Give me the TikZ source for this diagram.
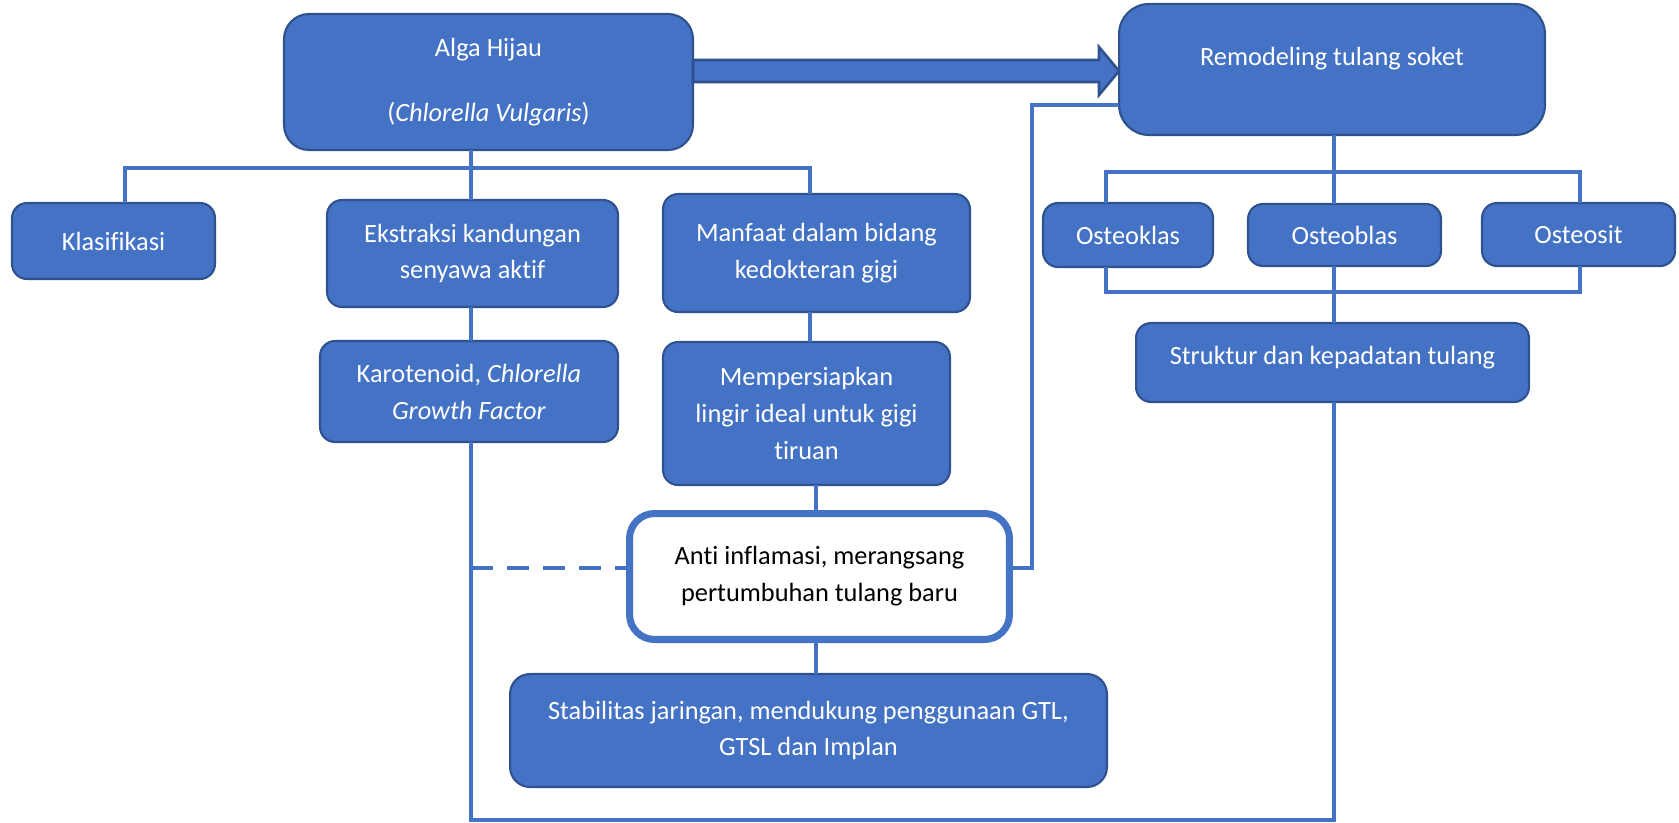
\documentclass[tikz,border=0pt]{standalone}
\usepackage{fontspec}
\setmainfont{Carlito}[Ligatures=NoCommon]
\usepackage{tikz}
\usepackage{xcolor}
\definecolor{officeblue}{HTML}{4472C4}
\definecolor{darkblue}{HTML}{2F528F}

\begin{document}
\begin{tikzpicture}[x=0.02cm,y=-0.02cm,
		box/.style={draw=darkblue,line width=1.2pt,fill=officeblue,text=white,
			rounded corners=0.3cm,align=center,inner sep=2pt,outer sep=0pt,
			font=\fontsize{15}{21}\selectfont},
		whitebox/.style={box,draw=officeblue,line width=4pt,fill=white,text=black,rounded corners=0.5cm},
		link/.style={officeblue,line width=2.2pt},
		dashlink/.style={link,dash pattern=on 12.5pt off 8pt},
		fatarrow/.style={draw=darkblue,line width=1.5pt,fill=officeblue,line join=miter}]
	\useasboundingbox (0,0) rectangle (1679,822);
	
	\coordinate (colKlas) at (125,0);
	\coordinate (colAlga) at (471,0);
	\coordinate (colManfaat) at (810,0);
	\coordinate (colAnti) at (816,0);
	\coordinate (colBack) at (1032,0);
	\coordinate (colOklas) at (1106,0);
	\coordinate (colRemodel) at (1334,0);
	\coordinate (colOsit) at (1580,0);
	\coordinate (arrowRow) at (0,71);
	\coordinate (rowBack) at (0,105);
	\coordinate (busTop) at (0,168);
	\coordinate (busRight) at (0,172);
	\coordinate (busLow) at (0,292);
	\coordinate (rowDash) at (0,568);
	\coordinate (rowBottom) at (0,820);
	
	\node[box,rounded corners=0.5cm,minimum width=8.18cm,minimum height=2.72cm] (alga) at (488.5,82)
		{Alga Hijau\\[0.56cm](\textit{Chlorella Vulgaris})};
	\node[box,rounded corners=0.6cm,minimum width=8.52cm,minimum height=2.62cm] (remodel) at (1332,69.5)
		{Remodeling tulang soket\\[-0.2cm]\mbox{}};
	
	\node[box,minimum width=4.06cm,minimum height=1.52cm] (klas) at (113.5,241) {Klasifikasi};
	\node[box,minimum width=5.82cm,minimum height=2.14cm] (ekstr) at (472.5,253.5)
		{Ekstraksi kandungan\\senyawa aktif};
	\node[box,minimum width=5.96cm,minimum height=2.02cm] (karo) at (469,391.5)
		{Karotenoid, \textit{Chlorella}\\\textit{Growth Factor}};
	\node[box,minimum width=6.14cm,minimum height=2.36cm] (manfaat) at (816.5,253)
		{Manfaat dalam bidang\\kedokteran gigi};
	\node[box,minimum width=5.74cm,minimum height=2.86cm] (persiap) at (806.5,413.5)
		{Mempersiapkan\\lingir ideal untuk gigi\\tiruan};
	\node[whitebox,minimum width=7.60cm,minimum height=2.52cm] (anti) at (819.5,576.5)
		{Anti inflamasi, merangsang\\pertumbuhan tulang baru};
	\node[box,rounded corners=0.4cm,minimum width=11.94cm,minimum height=2.26cm] (stabil) at (808.5,730.5)
		{Stabilitas jaringan, mendukung penggunaan GTL,\\GTSL dan Implan};
	
	\node[box,minimum width=3.40cm,minimum height=1.28cm] (oklas) at (1128,235) {Osteoklas};
	\node[box,minimum width=3.86cm,minimum height=1.24cm] (oblas) at (1344.5,235) {Osteoblas};
	\node[box,minimum width=3.86cm,minimum height=1.26cm] (osit) at (1578.5,234.5) {Osteosit};
	\node[box,minimum width=7.86cm,minimum height=1.58cm] (struk) at (1332.5,362.5)
		{Struktur dan kepadatan tulang\\[-0.45cm]\mbox{}};
	
	\draw[fatarrow] (alga.east |- arrowRow) ++(0,-11) -- ++(406,0) -- ++(0,-13)
		-- (remodel.west |- arrowRow) -- ++(-20,24) -- ++(0,-13) -- ++(-406,0) -- cycle;
	
	\draw[link] (alga.south -| colAlga) -- (ekstr.north -| colAlga);
	\draw[link] (klas.north -| colKlas) -- (colKlas |- busTop) -- (colManfaat |- busTop)
		-- (manfaat.north -| colManfaat);
	\draw[link] (ekstr.south -| colAlga) -- (karo.north -| colAlga);
	\draw[link] (karo.south -| colAlga) -- (colAlga |- rowBottom) -- (colRemodel |- rowBottom)
		-- (struk.south -| colRemodel);
	\draw[dashlink] (colAlga |- rowDash) -- (anti.west |- rowDash);
	\draw[link] (manfaat.south -| colManfaat) -- (persiap.north -| colManfaat);
	\draw[link] (persiap.south -| colAnti) -- (anti.north -| colAnti);
	\draw[link] (anti.south -| colAnti) -- (stabil.north -| colAnti);
	\draw[link] (anti.east |- rowDash) -- (colBack |- rowDash) -- (colBack |- rowBack)
		-- (remodel.west |- rowBack);
	
	\draw[link] (remodel.south -| colRemodel) -- (oblas.north -| colRemodel);
	\draw[link] (oklas.north -| colOklas) -- (colOklas |- busRight) -- (colOsit |- busRight)
		-- (osit.north -| colOsit);
	\draw[link] (oklas.south -| colOklas) -- (colOklas |- busLow) -- (colOsit |- busLow)
		-- (osit.south -| colOsit);
	\draw[link] (oblas.south -| colRemodel) -- (struk.north -| colRemodel);
\end{tikzpicture}
\end{document}
